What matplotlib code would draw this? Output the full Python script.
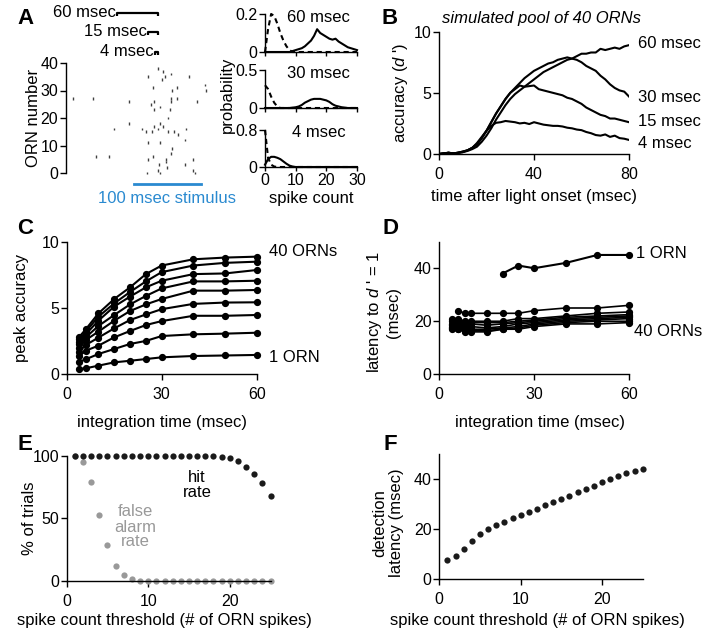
import numpy as np
import matplotlib
matplotlib.use('Agg')
import matplotlib.pyplot as plt

plt.rcParams['font.family'] = ['Liberation Sans', 'DejaVu Sans']
plt.rcParams['mathtext.fontset'] = 'custom'
plt.rcParams['mathtext.it'] = 'Liberation Sans:italic'
plt.rcParams['mathtext.rm'] = 'Liberation Sans'

W, H = 704, 637
BLUE = '#2a8ad0'
GRAY = '#999999'

# ---- A: raster (spike time in msec, ORN index) ----
spike_t = [136.7, 144, 155, 121.5, 147, 142.7, 182.7, 128.4, 164, 157, 205, 207,
           10.8, 40.4, 93.3, 130.4, 155.6, 164, 125.5, 139, 155, 193.6, 130.8, 154,
           150.7, 93.3, 139, 71, 130, 143, 112.6, 118.5, 127, 136.7, 150.7, 160,
           166, 178, 176, 121, 139, 157.5, 156, 44.4, 64, 121.5, 128, 148, 148,
           188.6, 137, 176.7, 149, 120, 136.7, 139, 188.6, 191.5]
spike_orn = [38, 37, 36, 35, 35, 34, 35, 31, 31, 30, 32, 30,
             27, 27, 26, 26, 27, 27, 25, 24, 26, 26, 23, 23,
             20, 18, 18, 16, 17, 17, 16, 15, 15, 16, 15, 15,
             14, 16, 12, 11, 11, 9, 7, 6, 6, 5, 6, 5, 4,
             5, 3, 3, 2, 0, 1, 0, 1, 0]
scale_bars = [60, 15, 4]

# ---- A: spike count histograms ----
counts = np.arange(31)
solid60 = [0, 0, 0, 0, 0, 0, 0, 0, 0, 0.005, 0.01, 0.015, 0.02, 0.03, 0.045, 0.06,
           0.085, 0.12, 0.1, 0.09, 0.08, 0.07, 0.065, 0.07, 0.055, 0.045, 0.035,
           0.025, 0.02, 0.015, 0.01]
dash60 = [0.0, 0.12, 0.2, 0.19, 0.15, 0.1, 0.06, 0.03, 0.01] + [0] * 22
solid30 = [0] * 9 + [0.005, 0.01, 0.02, 0.04, 0.07, 0.09, 0.11, 0.12, 0.12, 0.12,
                     0.11, 0.1, 0.08, 0.05, 0.03, 0.02, 0.01, 0.005, 0, 0, 0, 0]
dash30 = [0.3, 0.25, 0.15, 0.07, 0.02] + [0] * 26
solid4 = [0.05, 0.17, 0.22, 0.22, 0.2, 0.17, 0.12, 0.07, 0.03, 0.01] + [0] * 21
dash4 = [0.8, 0.2, 0.05, 0.01] + [0] * 27

# ---- B: accuracy vs time ----
b_time = np.arange(0, 81, 2)
acc4 = [0, 0.05, 0.1, 0.05, 0.1, 0.15, 0.3, 0.5, 0.9, 1.4, 1.9, 2.3, 2.55, 2.6, 2.7,
        2.65, 2.6, 2.5, 2.55, 2.45, 2.6, 2.5, 2.4, 2.35, 2.3, 2.3, 2.25, 2.15, 2.1,
        2.0, 1.95, 1.8, 1.7, 1.55, 1.5, 1.6, 1.4, 1.5, 1.3, 1.25, 1.15]
acc15 = [0, 0.05, 0.1, 0.05, 0.1, 0.2, 0.3, 0.5, 0.8, 1.3, 1.9, 2.6, 3.3, 3.9, 4.5,
         5.0, 5.3, 5.6, 5.5, 5.55, 5.6, 5.3, 5.2, 5.1, 5.0, 4.9, 4.8, 4.6, 4.5, 4.3,
         4.1, 3.8, 3.6, 3.4, 3.2, 3.1, 2.9, 2.9, 2.8, 2.7, 2.6]
acc30 = [0, 0.05, 0.1, 0.05, 0.1, 0.2, 0.3, 0.5, 0.8, 1.3, 1.9, 2.6, 3.3, 3.9, 4.5,
         5.0, 5.4, 5.8, 6.2, 6.5, 6.8, 7.0, 7.2, 7.4, 7.5, 7.7, 7.8, 7.9, 7.8, 7.7,
         7.5, 7.2, 7.0, 6.8, 6.4, 6.1, 5.7, 5.4, 5.2, 5.1, 4.7]
acc60 = [0, 0.05, 0.1, 0.05, 0.1, 0.15, 0.25, 0.4, 0.6, 1.0, 1.5, 2.1, 2.8, 3.4, 4.0,
         4.5, 4.9, 5.2, 5.5, 5.8, 6.1, 6.4, 6.7, 6.9, 7.1, 7.3, 7.5, 7.7, 7.8, 8.0,
         8.2, 8.2, 8.3, 8.3, 8.6, 8.5, 8.6, 8.7, 8.6, 8.8, 8.9]
b_labels = ['60 msec', '30 msec', '15 msec', '4 msec']

# ---- C: peak accuracy vs integration time (40 ORNs ... 1 ORN) ----
c_time = [4, 6, 10, 15, 20, 25, 30, 40, 50, 60]
c_peak = [
    [2.82, 3.37, 4.58, 5.67, 6.55, 7.55, 8.2, 8.67, 8.8, 8.87],
    [2.62, 3.2, 4.33, 5.34, 6.2, 7.0, 7.7, 8.2, 8.4, 8.49],
    [2.44, 3.0, 4.03, 5.1, 5.85, 6.55, 7.05, 7.55, 7.6, 7.86],
    [2.27, 2.77, 3.63, 4.46, 5.26, 5.9, 6.47, 7.0, 7.0, 7.05],
    [2.0, 2.57, 3.2, 4.03, 4.76, 5.26, 5.67, 6.3, 6.3, 6.35],
    [1.69, 2.19, 2.75, 3.45, 4.08, 4.5, 4.9, 5.3, 5.4, 5.42],
    [1.36, 1.76, 2.14, 2.77, 3.25, 3.7, 4.0, 4.4, 4.4, 4.46],
    [0.93, 1.11, 1.51, 1.89, 2.27, 2.5, 2.87, 3.0, 3.05, 3.12],
    [0.38, 0.43, 0.63, 0.88, 1.0, 1.13, 1.26, 1.36, 1.4, 1.44],
]

# ---- D: latency to d' = 1 ----
d_time = [4, 6, 8, 10, 15, 20, 25, 30, 40, 50, 60]
d_lat_1orn = [None, None, None, None, None, 38, 41, 40, 42, 45, 45]
d_latency = [
    [None, 24, 23, 23, 23, 23, 23, 24, 25, 25, 26],
    [21, 21, 20, 20, 20, 20, 21, 21, 22, 23, 23.5],
    [20, 20, 19.5, 19.5, 19.5, 19.5, 20, 20.5, 21.5, 22, 22.5],
    [19, 19.5, 19, 19, 18.5, 19, 19.5, 20, 21, 21.5, 22],
    [18.5, 18.5, 18, 18, 17.5, 18, 19, 19.5, 20.5, 21, 21.5],
    [18, 18, 17, 17, 17, 17.5, 18, 19, 20, 20.5, 21],
    [17.5, 17, 16.5, 16.5, 16.5, 17, 17.5, 18.5, 19.5, 20, 20],
    [17, 17, 16, 16, 16, 17, 17, 18, 19, 19, 19.5],
]

# ---- E / F: threshold analysis ----
threshold = np.arange(1, 26)
hit_rate = [100] * 18 + [99.5, 98.7, 96, 91, 85.3, 78.6, 68.2]
false_alarm = [100, 95.2, 78.9, 52.4, 28.3, 11.8, 4.3, 1.3] + [0] * 17
det_latency = [7.7, 9.5, 12.1, 15.5, 18.1, 20.3, 21.9, 23.1, 24.4, 25.6, 26.9, 28.1,
               29.6, 30.8, 32.0, 33.3, 34.8, 36.0, 37.5, 38.9, 40.3, 41.2, 42.4,
               43.3, 44.0]

fig = plt.figure(figsize=(W / 100, H / 100), dpi=100)


def add_ax(l, t, r, b, xpad=5.5):
    ax = fig.add_axes([l / W, 1 - b / H, (r - l) / W, (b - t) / H])
    for s in ['top', 'right']:
        ax.spines[s].set_visible(False)
    for s in ['left', 'bottom']:
        ax.spines[s].set_linewidth(1)
    ax.tick_params(length=4, width=1, labelsize=11.5, pad=1.5)
    ax.tick_params(axis='x', pad=xpad)
    ax.patch.set_alpha(0)
    return ax


def ftext(x, y, s, **kw):
    kw.setdefault('ha', 'center')
    kw.setdefault('va', 'center')
    kw.setdefault('fontsize', 12)
    fig.text(x / W, 1 - y / H, s, **kw)


# panel letters
for letter, x, y in [('A', 25, 18), ('B', 390, 18), ('C', 25, 228),
                     ('D', 390, 229), ('E', 25, 444), ('F', 390, 444)]:
    ftext(x, y, letter, fontsize=16, fontweight='bold')

# ---- A raster ----
ax = add_ax(66, 63, 212, 173)
ax.vlines(spike_t, np.array(spike_orn) - 0.5, np.array(spike_orn) + 0.5,
          color='0.25', lw=1, clip_on=False)
ax.set_xlim(0, 216)
ax.set_ylim(0, 40)
ax.spines['bottom'].set_visible(False)
ax.set_xticks([])
ax.set_yticks([0, 10, 20, 30, 40])
bar_y = {60: 58.2, 15: 51.3, 4: 44}
for L in scale_bars:
    y = bar_y[L]
    ax.plot([136 - L, 136 - L, 136, 136], [y - 1.1, y, y, y - 1.1], color='k',
            lw=1.6, clip_on=False, solid_capstyle='butt')
    ax.text(136 - L - 2, y, f'{L} msec', ha='right', va='center', fontsize=12)
ax.plot([100, 200], [-4, -4], color=BLUE, lw=2, clip_on=False)
ftext(33, 118, 'ORN number', rotation=90)
ftext(167, 199, '100 msec stimulus', color=BLUE)

# ---- A histograms ----
hists = [(solid60, dash60, 0.2, '60 msec', 14, 52),
         (solid30, dash30, 0.5, '30 msec', 70, 108),
         (solid4, dash4, 0.8, '4 msec', 130, 167)]
for i, (sol, das, top, lab, t, b) in enumerate(hists):
    ax = add_ax(265, t, 357, b, xpad=1.5)
    ax.plot(counts, sol, color='k', lw=1.5, clip_on=False)
    ax.plot(counts, das, color='k', lw=1.5, ls=(0, (2.5, 1.8)), clip_on=False)
    ax.set_xlim(0, 30)
    ax.set_ylim(0, top)
    ax.set_yticks([0, top])
    ax.set_yticklabels(['0', f'{top:g}'])
    ax.set_xticks([0, 10, 20, 30])
    ax.tick_params(axis='x', length=3)
    if i < 2:
        ax.set_xticklabels([])
    ax.text(0.58, 0.92, lab, transform=ax.transAxes, ha='center', va='center',
            fontsize=12)
ftext(227, 95, 'probability', rotation=90)
ftext(311, 198, 'spike count')

# ---- B ----
ax = add_ax(439, 31.7, 629, 154)
for acc in [acc4, acc15, acc30, acc60]:
    ax.plot(b_time, acc, color='k', lw=1.5)
ax.set_xlim(0, 80)
ax.set_ylim(0, 10)
ax.set_xticks([0, 40, 80])
ax.set_yticks([0, 5, 10])
for lab, y in zip(b_labels, [44, 97, 122, 144]):
    ftext(638, y, lab, ha='left')
ftext(541, 18, 'simulated pool of 40 ORNs', style='italic')
ftext(400, 93, "accuracy ($d$ ')", rotation=90)
ftext(534, 196, 'time after light onset (msec)')

# ---- C ----
ax = add_ax(66.7, 241.7, 256.7, 374)
for row in c_peak:
    ax.plot(c_time, row, color='k', lw=1.5, marker='o', ms=4.2, clip_on=False)
ax.set_xlim(0, 60)
ax.set_ylim(0, 10)
ax.set_xticks([0, 30, 60])
ax.set_yticks([0, 5, 10])
ftext(269, 252, '40 ORNs', ha='left')
ftext(269, 357, '1 ORN', ha='left')
ftext(22, 308, 'peak accuracy', rotation=90)
ftext(162, 422, 'integration time (msec)')

# ---- D ----
ax = add_ax(439.3, 241.7, 629, 374.3)
x1 = [t for t, v in zip(d_time, d_lat_1orn) if v is not None]
y1 = [v for v in d_lat_1orn if v is not None]
ax.plot(x1, y1, color='k', lw=1.5, marker='o', ms=4.2, clip_on=False)
for row in d_latency:
    xs = [t for t, v in zip(d_time, row) if v is not None]
    ys = [v for v in row if v is not None]
    ax.plot(xs, ys, color='k', lw=1.2, marker='o', ms=4.2, clip_on=False)
ax.set_xlim(0, 60)
ax.set_ylim(0, 50)
ax.set_xticks([0, 30, 60])
ax.set_yticks([0, 20, 40])
ftext(636, 253, '1 ORN', ha='left')
ftext(634, 332, '40 ORNs', ha='left')
ftext(374, 312, "latency to $d$ ' = 1", rotation=90)
ftext(394, 312, '(msec)', rotation=90)
ftext(540, 422, 'integration time (msec)')

# ---- E ----
ax = add_ax(66.7, 456, 270.5, 580.7)
ax.plot(threshold, false_alarm, 'o', color=GRAY, ms=4.5, mec='none', clip_on=False)
ax.plot(threshold, hit_rate, 'o', color='#1a1a1a', ms=4.5, mec='none', clip_on=False)
ax.set_xlim(0, 25)
ax.set_ylim(0, 100)
ax.set_xticks([0, 10, 20])
ax.set_yticks([0, 50, 100])
ftext(197, 485, 'hit\nrate', linespacing=1.0)
ftext(135, 527, 'false\nalarm\nrate', color=GRAY, linespacing=1.0)
ftext(30, 518, '% of trials', rotation=90)
ftext(164, 620, 'spike count threshold (# of ORN spikes)')

# ---- F ----
ax = add_ax(439.3, 454.3, 642.7, 579.3)
ax.plot(threshold, det_latency, 'o', color='#1a1a1a', ms=4.5, mec='none', clip_on=False)
ax.set_xlim(0, 25)
ax.set_ylim(0, 50)
ax.set_xticks([0, 10, 20])
ax.set_yticks([0, 20, 40])
ftext(380, 523, 'detection', rotation=90)
ftext(397, 523, 'latency (msec)', rotation=90)
ftext(537, 620, 'spike count threshold (# of ORN spikes)')

fig.savefig('out.png', dpi=100)
